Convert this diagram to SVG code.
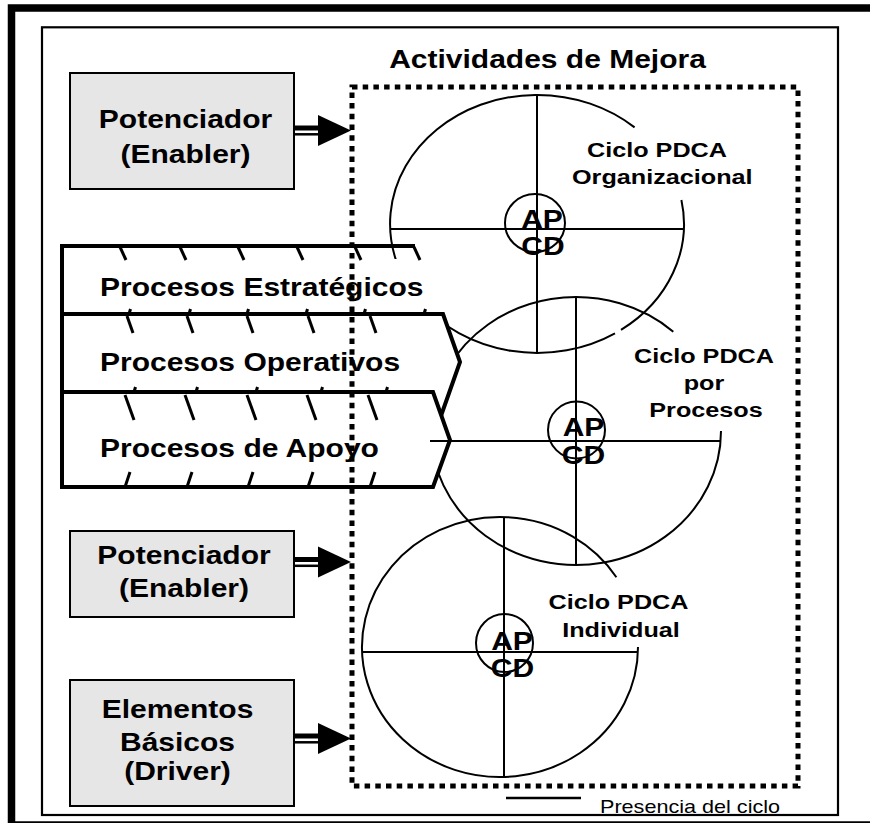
<svg xmlns="http://www.w3.org/2000/svg" width="870" height="823" viewBox="0 0 870 823">
<defs>
<style>
.frame{fill:none;stroke:#000}
.box{fill:#e6e6e6;stroke:#000;stroke-width:2}
.ring{fill:none;stroke:#000;stroke-width:2}
.axis{stroke:#000;stroke-width:2}
.band{fill:#fff;stroke:none}
.edge{fill:none;stroke:#000;stroke-width:4;stroke-linejoin:miter}
.tick{stroke:#000;stroke-width:3}
.dots{fill:none;stroke:#000;stroke-width:5;stroke-dasharray:5.5 5.2}
text{font-family:"Liberation Sans",Arial,Helvetica,sans-serif;fill:#000}
.b25{font-size:25px;font-weight:bold}
.b21{font-size:21px;font-weight:bold}
.r18{font-size:18px}
.m{text-anchor:middle}
</style>
<g id="arrow">
  <line x1="-56" y1="-2.5" x2="-32" y2="-2.5" stroke="#000" stroke-width="5"/>
  <line x1="-56" y1="3.8" x2="-32" y2="3.8" stroke="#000" stroke-width="2.5"/>
  <polygon points="-33,-15.5 0,0 -33,15.5" fill="#000"/>
</g>
</defs>

<rect width="870" height="823" fill="#fff"/>

<!-- frames -->
<rect class="frame" x="11.5" y="8" width="900" height="817" stroke-width="7.5"/>
<rect class="frame" x="42" y="27.3" width="796" height="787.7" stroke-width="2.2"/>

<!-- cycle rings (partial arcs, open at upper right) -->
<g id="ring-organizacional">
  <path class="ring" d="M681.4,200 A147,129 0 0 1 621,329.9 M615,333.3 A147,129 0 1 1 634.6,127.4"/>
</g>
<g id="ring-procesos">
  <path class="ring" d="M721,431 A145,134 0 1 1 673.3,331.7"/>
</g>
<g id="ring-individual">
  <path class="ring" d="M638,647 A138,130 0 1 1 616.4,577.2"/>
</g>

<!-- process bands -->
<g id="procesos-estrategicos">
  <polygon class="band" points="62,259 420,259 446,290 444,314 62,314"/>
  <line class="edge" x1="62" y1="246" x2="415" y2="246"/>
  <g class="tick">
    <line x1="120" y1="247" x2="126" y2="260"/>
    <line x1="180" y1="247" x2="186" y2="260"/>
    <line x1="238" y1="247" x2="244" y2="260"/>
    <line x1="297" y1="247" x2="303" y2="260"/>
    <line x1="355" y1="247" x2="361" y2="260"/>
    <line x1="414" y1="247" x2="420" y2="260"/>
    <line x1="129" y1="314" x2="130.5" y2="309"/>
    <line x1="189" y1="314" x2="190.5" y2="309"/>
    <line x1="247" y1="314" x2="248.5" y2="309"/>
    <line x1="306" y1="314" x2="307.5" y2="309"/>
    <line x1="364" y1="314" x2="365.5" y2="309"/>
    <line x1="424" y1="314" x2="425.5" y2="309"/>
  </g>
  <text class="b25" transform="translate(100,296) scale(1.2 1)">Procesos Estratégicos</text>
</g>

<g id="procesos-operativos">
  <polygon class="band" points="62,314 443,314 460,362 436,430 62,430"/>
  <polyline class="edge" points="62,314 443,314 460,362 436,430"/>
  <g class="tick">
    <line x1="127" y1="316" x2="133" y2="333"/>
    <line x1="187" y1="316" x2="193" y2="333"/>
    <line x1="247" y1="316" x2="253" y2="333"/>
    <line x1="308" y1="316" x2="314" y2="333"/>
    <line x1="370" y1="316" x2="376" y2="333"/>
    <line x1="134" y1="392" x2="135.5" y2="387"/>
    <line x1="196" y1="392" x2="197.5" y2="387"/>
    <line x1="256" y1="392" x2="257.5" y2="387"/>
    <line x1="321" y1="392" x2="322.5" y2="387"/>
    <line x1="386" y1="392" x2="387.5" y2="387"/>
  </g>
  <text class="b25" transform="translate(100,371) scale(1.2 1)">Procesos Operativos</text>
</g>

<g id="procesos-apoyo">
  <polygon class="band" points="62,392 433,392 450,440 433,487 62,487"/>
  <polyline class="edge" points="62,392 433,392 450,440 433,487 62,487"/>
  <g class="tick">
    <line x1="125" y1="395" x2="134" y2="420"/>
    <line x1="185" y1="395" x2="194" y2="420"/>
    <line x1="247" y1="395" x2="256" y2="420"/>
    <line x1="307" y1="395" x2="316" y2="420"/>
    <line x1="368" y1="395" x2="377" y2="420"/>
    <line x1="125" y1="487" x2="130" y2="472"/>
    <line x1="187" y1="487" x2="192" y2="472"/>
    <line x1="248" y1="487" x2="253" y2="472"/>
    <line x1="308" y1="487" x2="313" y2="472"/>
    <line x1="370" y1="487" x2="375" y2="472"/>
  </g>
  <text class="b25" transform="translate(100,457) scale(1.2 1)">Procesos de Apoyo</text>
</g>

<!-- shared left edge of the bands -->
<line class="edge" x1="62" y1="244" x2="62" y2="489"/>

<!-- ring axes and PDCA hubs -->
<g id="hub-organizacional">
  <line class="axis" x1="537" y1="95" x2="537" y2="353"/>
  <line class="axis" x1="390" y1="229" x2="683" y2="229"/>
  <ellipse class="ring" cx="535" cy="223" rx="30" ry="29"/>
  <text class="b25 m" transform="translate(542,228) scale(1.2 1)">AP</text>
  <text class="b25 m" transform="translate(543,255) scale(1.2 1)">CD</text>
  <text class="b21" transform="translate(587,157) scale(1.2 1)">Ciclo  PDCA</text>
  <text class="b21" transform="translate(572,184) scale(1.2 1)">Organizacional</text>
</g>
<g id="hub-procesos">
  <line class="axis" x1="576" y1="297" x2="576" y2="565"/>
  <line class="axis" x1="430" y1="441" x2="721" y2="441"/>
  <ellipse class="ring" cx="576.5" cy="430" rx="28.5" ry="28.5"/>
  <text class="b25 m" transform="translate(583.5,436) scale(1.2 1)">AP</text>
  <text class="b25 m" transform="translate(583.5,464) scale(1.2 1)">CD</text>
  <text class="b21 m" transform="translate(704,363) scale(1.2 1)">Ciclo PDCA</text>
  <text class="b21 m" transform="translate(704,390) scale(1.2 1)">por</text>
  <text class="b21 m" transform="translate(706,417) scale(1.2 1)">Procesos</text>
</g>
<g id="hub-individual">
  <line class="axis" x1="504" y1="517" x2="504" y2="777"/>
  <line class="axis" x1="362" y1="652" x2="637" y2="652"/>
  <ellipse class="ring" cx="504.5" cy="643" rx="28.5" ry="29"/>
  <text class="b25 m" transform="translate(512,650) scale(1.2 1)">AP</text>
  <text class="b25 m" transform="translate(512.5,677) scale(1.2 1)">CD</text>
  <text class="b21 m" transform="translate(618.5,609) scale(1.2 1)">Ciclo PDCA</text>
  <text class="b21 m" transform="translate(621,637) scale(1.2 1)">Individual</text>
</g>

<!-- improvement activities boundary -->
<g id="actividades-mejora">
  <rect class="dots" x="352" y="87" width="446" height="699"/>
  <text class="b25 m" transform="translate(547.5,68) scale(1.2 1)">Actividades de Mejora</text>
</g>

<!-- input boxes -->
<g id="potenciador-1">
  <rect class="box" x="70" y="73" width="224" height="116"/>
  <text class="b25 m" transform="translate(185.5,128) scale(1.2 1)">Potenciador</text>
  <text class="b25 m" transform="translate(185.5,163) scale(1.2 1)">(Enabler)</text>
</g>
<g id="potenciador-2">
  <rect class="box" x="70" y="531" width="224" height="86"/>
  <text class="b25 m" transform="translate(184,564) scale(1.2 1)">Potenciador</text>
  <text class="b25 m" transform="translate(184,597) scale(1.2 1)">(Enabler)</text>
</g>
<g id="elementos-basicos">
  <rect class="box" x="70" y="680" width="224" height="126"/>
  <text class="b25 m" transform="translate(177.5,718) scale(1.2 1)">Elementos</text>
  <text class="b25 m" transform="translate(177.5,751) scale(1.2 1)">Básicos</text>
  <text class="b25 m" transform="translate(177.5,780) scale(1.2 1)">(Driver)</text>
</g>

<!-- connectors -->
<g id="connectors">
  <use href="#arrow" transform="translate(351,130.5)"/>
  <use href="#arrow" transform="translate(351,562)"/>
  <use href="#arrow" transform="translate(351,738.5)"/>
</g>

<!-- legend -->
<g id="legend">
  <line x1="506" y1="798" x2="581" y2="798" stroke="#000" stroke-width="2.5"/>
  <text class="r18" transform="translate(600,813) scale(1.2 1)">Presencia del ciclo</text>
</g>
</svg>
